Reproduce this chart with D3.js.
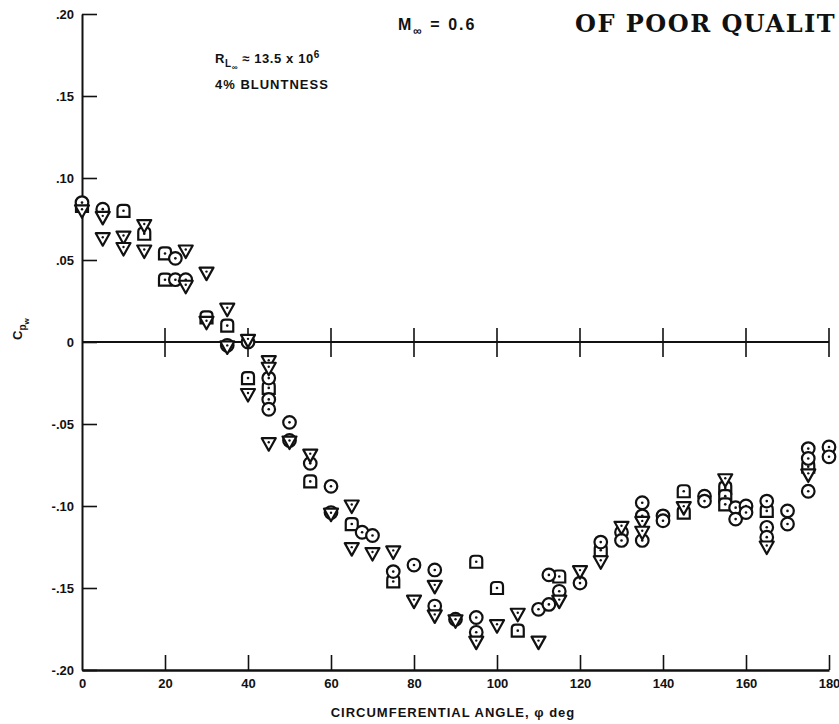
<!DOCTYPE html>
<html>
<head>
<meta charset="utf-8">
<script src="https://cdn.jsdelivr.net/npm/d3@7"></script>
<style>
  html, body { margin: 0; padding: 0; background: #fff; }
  svg { display: block; }
  .lbl { font-family: "Liberation Sans", Arial, sans-serif; font-weight: bold; fill: #111; }
</style>
</head>
<body>
<svg id="chart" width="839" height="724"></svg>
<script>
// Wall pressure coefficient around the circumference, M = 0.6
const xTicks = [0, 20, 40, 60, 80, 100, 120, 140, 160, 180];
const yTicks = [-0.20, -0.15, -0.10, -0.05, 0, 0.05, 0.10, 0.15, 0.20];
const yTickLabels = ["-.20", "-.15", "-.10", "-.05", "0", ".05", ".10", ".15", ".20"];

// circle symbols: [angle, Cp]
const circleData = [
  [0, 0.085], [5, 0.081], [22.5, 0.051], [22.5, 0.038], [25, 0.038],
  [35, -0.002], [40, 0.000], [45, -0.022], [45, -0.035], [45, -0.041],
  [50, -0.049], [50, -0.060], [55, -0.074], [60, -0.088], [60, -0.104],
  [67.5, -0.116], [70, -0.118], [75, -0.140], [80, -0.136], [85, -0.139],
  [85, -0.161], [90, -0.169], [95, -0.168], [95, -0.177], [110, -0.163],
  [112.5, -0.142], [112.5, -0.160], [115, -0.152], [120, -0.147], [125, -0.122],
  [130, -0.116], [130, -0.121], [135, -0.098], [135, -0.106], [135, -0.121],
  [140, -0.106], [140, -0.109], [150, -0.094], [150, -0.097], [157.5, -0.101],
  [157.5, -0.108], [160, -0.100], [160, -0.104], [165, -0.097], [165, -0.113],
  [165, -0.119], [170, -0.103], [170, -0.111], [175, -0.065], [175, -0.071],
  [175, -0.091], [180, -0.064], [180, -0.070]
];

// square symbols: [angle, Cp]
const squareData = [
  [0, 0.083], [10, 0.080], [15, 0.066], [20, 0.054], [20, 0.038],
  [30, 0.015], [35, 0.010], [40, -0.022], [45, -0.028], [55, -0.085],
  [65, -0.111], [75, -0.146], [95, -0.134], [100, -0.150], [105, -0.176],
  [115, -0.143], [125, -0.127], [145, -0.091], [145, -0.104], [155, -0.089],
  [155, -0.094], [155, -0.099], [165, -0.103], [175, -0.076]
];

// inverted triangle symbols: [angle, Cp]
const triangleData = [
  [0, 0.080], [5, 0.076], [5, 0.063], [10, 0.064], [10, 0.057],
  [15, 0.071], [15, 0.0555], [25, 0.0555], [25, 0.034], [30, 0.042],
  [30, 0.012], [35, 0.020], [35, -0.003], [40, 0.001], [40, -0.032],
  [45, -0.012], [45, -0.016], [45, -0.062], [50, -0.061], [55, -0.069],
  [60, -0.105], [65, -0.100], [65, -0.126], [70, -0.129], [75, -0.128],
  [80, -0.158], [85, -0.149], [85, -0.167], [90, -0.170], [95, -0.183],
  [100, -0.173], [105, -0.166], [110, -0.183], [115, -0.158], [120, -0.140],
  [125, -0.134], [130, -0.113], [135, -0.110], [135, -0.116], [145, -0.101],
  [155, -0.084], [165, -0.125], [175, -0.081]
];

const svg = d3.select("#chart");
const x = d3.scaleLinear().domain([0, 180]).range([82, 829]);
const y = d3.scaleLinear().domain([-0.2, 0.2]).range([670, 14]);

// left axis with inward ticks
const yAxis = d3.axisLeft(y)
  .tickValues(yTicks)
  .tickFormat((d, i) => yTickLabels[i])
  .tickSizeInner(-15).tickSizeOuter(0).tickPadding(8);
const gy = svg.append("g").attr("transform", `translate(${x(0)},0)`).call(yAxis);
gy.select(".domain").attr("stroke", "#111").attr("stroke-width", 2);
gy.selectAll(".tick line").attr("stroke", "#111").attr("stroke-width", 1.6);
gy.selectAll(".tick text").attr("class", "lbl").style("font-size", "13px");

// bottom axis with upward ticks
const xAxis = d3.axisBottom(x)
  .tickValues(xTicks)
  .tickSizeInner(-15).tickSizeOuter(0).tickPadding(9);
const gx = svg.append("g").attr("transform", `translate(0,${y(-0.2)})`).call(xAxis);
gx.select(".domain").attr("stroke", "#111").attr("stroke-width", 2.4);
gx.selectAll(".tick line").attr("stroke", "#111").attr("stroke-width", 1.6);
gx.selectAll(".tick").filter(d => d === 0).select("line").remove();
gx.selectAll(".tick text").attr("class", "lbl").style("font-size", "13px");

// zero reference line with crossing ticks
svg.append("line")
  .attr("x1", x(0)).attr("x2", x(180))
  .attr("y1", y(0)).attr("y2", y(0))
  .attr("stroke", "#111").attr("stroke-width", 2);
svg.append("g").selectAll("line")
  .data(xTicks.filter(d => d > 0))
  .join("line")
  .attr("x1", d => x(d)).attr("x2", d => x(d))
  .attr("y1", y(0) - 14).attr("y2", y(0) + 15)
  .attr("stroke", "#111").attr("stroke-width", 1.6);

// symbols
const stroke = "#111";
const sw = 2.2;
const gPts = svg.append("g");

function dot(g) {
  g.append("circle").attr("r", 1.3).attr("fill", stroke);
}

gPts.selectAll(".sq").data(squareData).join("g")
  .attr("class", "sq")
  .attr("transform", d => `translate(${x(d[0])},${y(d[1])})`)
  .each(function () {
    const g = d3.select(this);
    // square with softened upper corners
    g.append("path")
      .attr("d", "M-6,6 L-6,-2 Q-6,-6 -2,-6 L2,-6 Q6,-6 6,-2 L6,6 Z")
      .attr("fill", "#fff").attr("stroke", stroke).attr("stroke-width", sw);
    dot(g);
  });

gPts.selectAll(".ci").data(circleData).join("g")
  .attr("class", "ci")
  .attr("transform", d => `translate(${x(d[0])},${y(d[1])})`)
  .each(function () {
    const g = d3.select(this);
    g.append("circle").attr("r", 6.3)
      .attr("fill", "#fff").attr("stroke", stroke).attr("stroke-width", sw);
    dot(g);
  });

gPts.selectAll(".tr").data(triangleData).join("g")
  .attr("class", "tr")
  .attr("transform", d => `translate(${x(d[0])},${y(d[1])})`)
  .each(function () {
    const g = d3.select(this);
    g.append("path")
      .attr("d", "M-7,-5.5 L7,-5.5 L0,7 Z")
      .attr("fill", "#fff").attr("stroke", stroke).attr("stroke-width", sw)
      .attr("stroke-linejoin", "round");
    g.append("circle").attr("cy", -1.5).attr("r", 1.2).attr("fill", stroke);
  });

// annotations
const mach = svg.append("text").attr("class", "lbl")
  .attr("x", 398).attr("y", 30).style("font-size", "16px")
  .style("letter-spacing", "2px");
mach.append("tspan").text("M");
mach.append("tspan").attr("dy", 5).style("font-size", "12px").text("∞");
mach.append("tspan").attr("dy", -5).text(" = 0.6");

svg.append("text")
  .attr("x", 575).attr("y", 32)
  .style("font-family", "'DejaVu Serif', 'Liberation Serif', serif")
  .style("font-weight", "bold").style("font-size", "24px").style("fill", "#111")
  .style("letter-spacing", "1.5px")
  .text("OF POOR QUALIT");

const rey = svg.append("text").attr("class", "lbl")
  .attr("x", 215).attr("y", 63).style("font-size", "13px")
  .style("letter-spacing", "0.6px");
rey.append("tspan").text("R");
rey.append("tspan").attr("dy", 4).style("font-size", "10px").text("L");
rey.append("tspan").attr("dy", 3).style("font-size", "8px").text("∞");
rey.append("tspan").attr("dy", -7).text(" ≈ 13.5 x 10");
rey.append("tspan").attr("dy", -5).style("font-size", "10px").text("6");

svg.append("text").attr("class", "lbl")
  .attr("x", 215).attr("y", 89).style("font-size", "13px")
  .style("letter-spacing", "1px")
  .text("4% BLUNTNESS");

// axis titles
svg.append("text").attr("class", "lbl")
  .attr("x", 453).attr("y", 717).attr("text-anchor", "middle")
  .style("font-size", "13px").style("letter-spacing", "1px")
  .text("CIRCUMFERENTIAL ANGLE, φ deg");

const yl = svg.append("text").attr("class", "lbl")
  .attr("transform", "translate(22,340) rotate(-90)")
  .style("font-size", "13px");
yl.append("tspan").text("C");
yl.append("tspan").attr("dy", 4).style("font-size", "10px").text("p");
yl.append("tspan").attr("dy", 3).style("font-size", "8px").text("w");
</script>
</body>
</html>
